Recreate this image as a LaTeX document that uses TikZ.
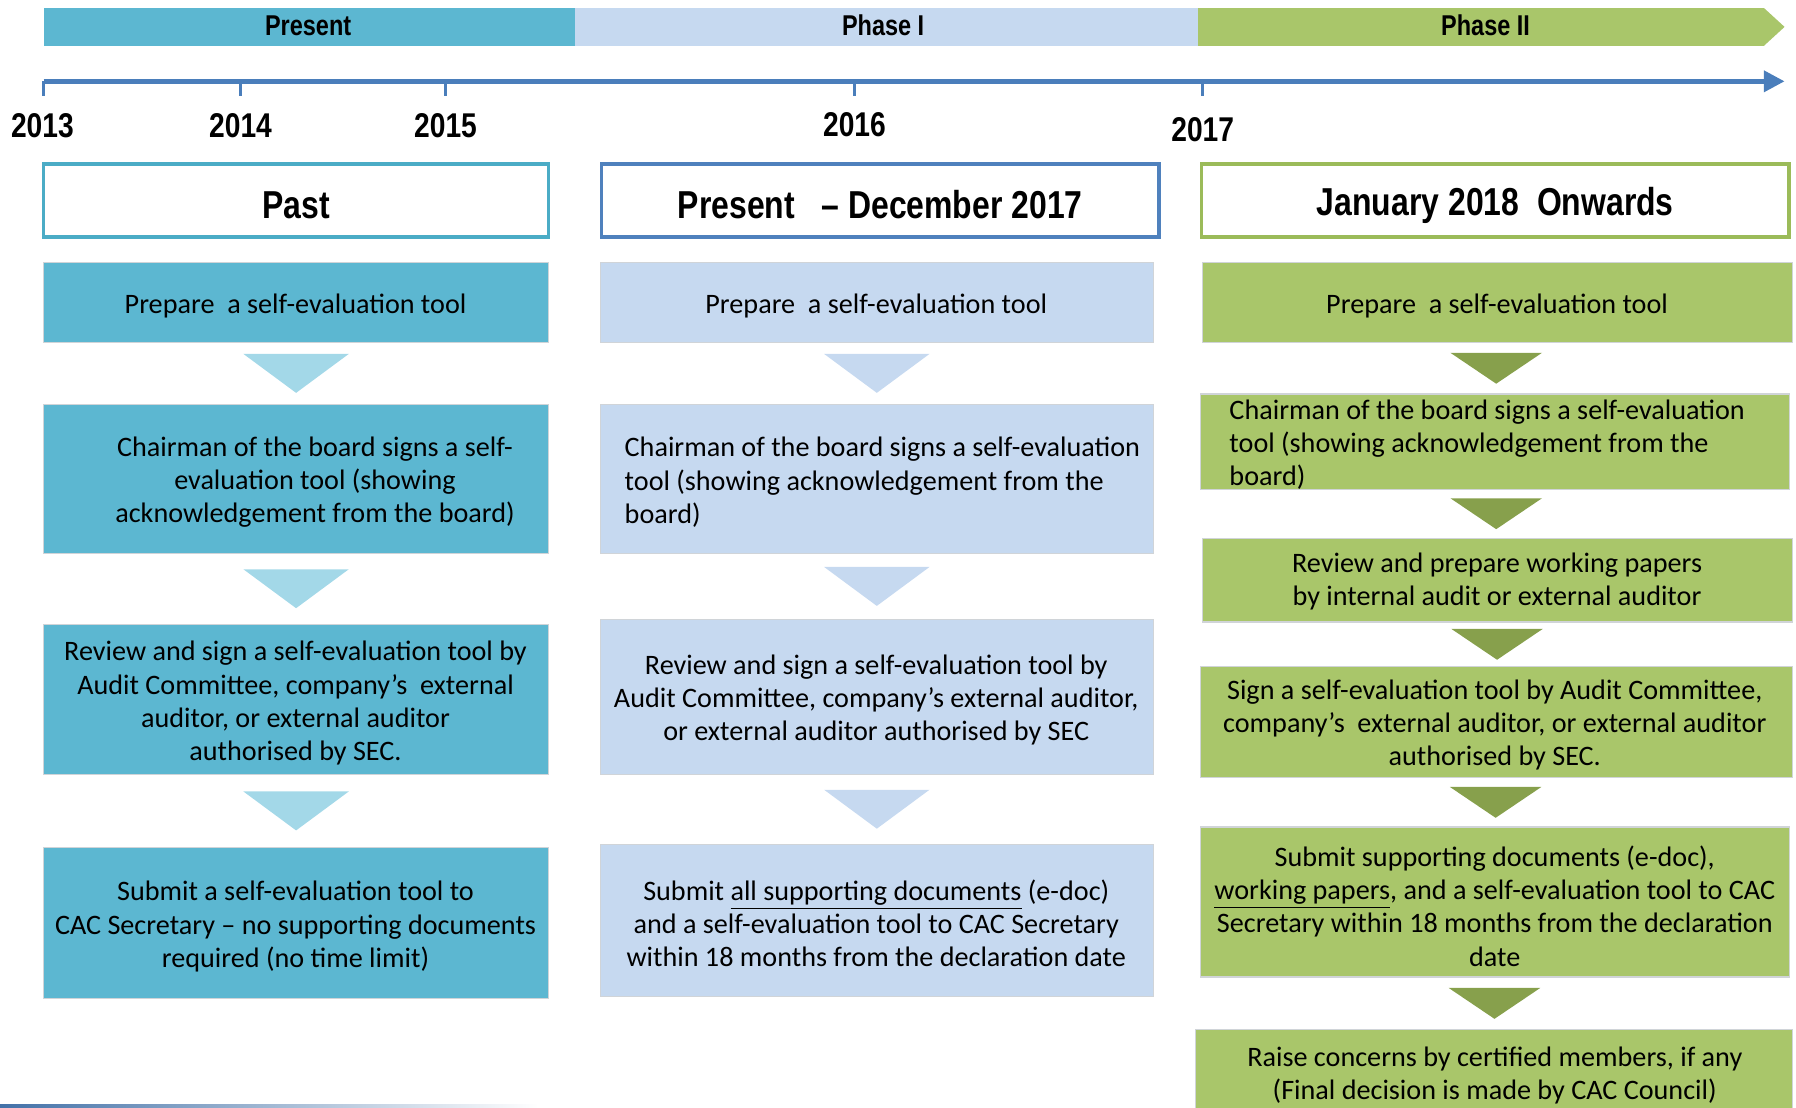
\documentclass[tikz,border=0pt]{standalone}
\usepackage{fontspec}
\setmainfont{Carlito}
\newfontfamily\hfont{Liberation Sans}[FakeStretch=0.82]
\usetikzlibrary{calc,arrows.meta}
\definecolor{cA}{HTML}{5CB7D1}
\definecolor{cAt}{HTML}{A3D8E8}
\definecolor{cAh}{HTML}{4BACC6}
\definecolor{cB}{HTML}{C6D9F0}
\definecolor{cBt}{HTML}{C6D9F0}
\definecolor{cBh}{HTML}{4F81BD}
\definecolor{cC}{HTML}{A9C66A}
\definecolor{cCt}{HTML}{87A04C}
\definecolor{cCh}{HTML}{9BBB59}
\definecolor{tline}{HTML}{4A7EBB}
\definecolor{boxline}{HTML}{D0D4D8}
\newcommand\bx[6]{\node[box=#6, minimum width={(#4-#2)*0.5pt}, minimum height={(#5-#3)*0.5pt}] (#1) at ({(#2+#4)/2},{(#3+#5)/2}) {};}
\newcommand\hbx[6]{\node[hbox=#6, minimum width={(#4-#2)*0.5pt}, minimum height={(#5-#3)*0.5pt}] (#1) at ({(#2+#4)/2},{(#3+#5)/2}) {};}
\newcommand\dtri[5]{\fill[#5] ($(#1.south)!0.5!(#2.north)+(-#3,-#4/2)$) -- ++({2*#3},0) -- ++(-#3,#4) -- cycle;}
\begin{document}
\begin{tikzpicture}[x=0.5pt,y=-0.5pt,
  txt/.style={font=\fontsize{12.3}{14.5}\selectfont, align=center, inner sep=0pt, yshift=-1.5pt},
  box/.style={draw=boxline, line width=0.5pt, fill=#1, inner sep=0pt, outer sep=0pt},
  hbox/.style={draw=#1, line width=1.5pt, fill=white, inner sep=0pt, outer sep=0pt},
  htxt/.style={font=\hfont\bfseries\fontsize{17}{20}\selectfont, inner sep=0pt, yshift=-2pt},
  bartxt/.style={font=\hfont\bfseries\fontsize{12.5}{15}\selectfont, inner sep=0pt},
  year/.style={font=\hfont\bfseries\fontsize{15}{18}\selectfont, inner sep=0pt},
  tick/.style={draw=tline, line width=1.5pt},
]
\useasboundingbox (0,0) rectangle (1568,967);

% top phase bar
\fill[cA] (38,7) rectangle (502,40);
\fill[cB] (502,7) rectangle (1046,40);
\fill[cC] (1046,7) -- (1540,7) -- (1558,23.5) -- (1540,40) -- (1046,40) -- cycle;
\node[bartxt] (barA) at (269,22.5) {Present};
\node[bartxt] (barB) at (771,22.5) {Phase I};
\node[bartxt] (barC) at (1297,22.5) {Phase II};

% timeline
\coordinate (t13) at (38,71);
\coordinate (t14) at (210,71);
\coordinate (t15) at (389,71);
\coordinate (t16) at (746,71);
\coordinate (t17) at (1050,71);
\coordinate (tend) at (1558,71);
\draw[draw=tline, line width=2pt, -{Triangle[length=9pt,width=9pt]}] (t13) -- (tend);
\foreach \t in {t13,t14,t15,t16,t17} \draw[tick] (\t) -- ++(0,13);
\node[year] (y13) at (37,110) {2013};
\node[year] (y14) at (210,110) {2014};
\node[year] (y15) at (389,110) {2015};
\node[year] (y16) at (746,109) {2016};
\node[year] (y17) at (1050,113) {2017};

% header boxes
\hbx{hA}{38}{143}{479}{207}{cAh}
\hbx{hB}{525}{143}{1012}{207}{cBh}
\hbx{hC}{1049}{143}{1562}{207}{cCh}
\node[htxt] (hAt) at (hA) {Past};
\node[htxt] (hBt) at (hB) {Present\ \ \ – December 2017};
\node[htxt] (hCt) at (hC) {January 2018\ \ Onwards};

% column 1
\bx{a1}{38}{229}{479}{299}{cA}
\bx{a2}{38}{353}{479}{483}{cA}
\bx{a3}{38}{545}{479}{676}{cA}
\bx{a4}{38}{740}{479}{872}{cA}
\dtri{a1}{a2}{46}{34}{cAt}
\dtri{a2}{a3}{46}{34}{cAt}
\dtri{a3}{a4}{46}{34}{cAt}
\node[txt] (a1t) at (258,264) {Prepare\ \ a self-evaluation tool};
\node[txt] (a2t) at (275,418) {Chairman of the board signs a self-\\evaluation tool (showing\\acknowledgement from the board)};
\node[txt] (a3t) at (258,611) {Review and sign a self-evaluation tool by\\Audit Committee, company’s\ \ external\\auditor, or external auditor\\authorised by SEC.};
\node[txt] (a4t) at (258,806) {Submit a self-evaluation tool to\\CAC Secretary – no supporting documents\\required (no time limit)};

% column 2
\bx{b1}{524}{229}{1007}{299}{cB}
\bx{b2}{524}{353}{1007}{483}{cB}
\bx{b3}{524}{541}{1007}{676}{cB}
\bx{b4}{524}{737}{1007}{870}{cB}
\dtri{b1}{b2}{46}{34}{cBt}
\dtri{b2}{b3}{46}{34}{cBt}
\dtri{b3}{b4}{46}{34}{cBt}
\node[txt] (b1t) at (765,264) {Prepare\ \ a self-evaluation tool};
\node[txt, align=left, anchor=west] (b2t) at (545,418) {Chairman of the board signs a self-evaluation\\tool (showing acknowledgement from the\\board)};
\node[txt] (b3t) at (765,608) {Review and sign a self-evaluation tool by\\Audit Committee, company’s external auditor,\\or external auditor authorised by SEC};
\node[txt] (b4t) at (765,803) {Submit \underline{all supporting documents} (e-doc)\\and a self-evaluation tool to CAC Secretary\\within 18 months from the declaration date};

% column 3
\bx{c1}{1050}{229}{1565}{299}{cC}
\bx{c2}{1048}{344}{1562}{427}{cC}
\bx{c3}{1050}{470}{1565}{543}{cC}
\bx{c4}{1048}{582}{1565}{679}{cC}
\bx{c5}{1048}{722}{1562}{853}{cC}
\bx{c6}{1044}{899}{1565}{975}{cC}
\dtri{c1}{c2}{40}{27}{cCt}
\dtri{c2}{c3}{40}{27}{cCt}
\dtri{c3}{c4}{40}{27}{cCt}
\dtri{c4}{c5}{40}{27}{cCt}
\dtri{c5}{c6}{40}{27}{cCt}
\node[txt] (c1t) at (1307,264) {Prepare\ \ a self-evaluation tool};
\node[txt, align=left, anchor=west] (c2t) at (1073,385) {Chairman of the board signs a self-evaluation\\tool (showing acknowledgement from the\\board)};
\node[txt] (c3t) at (1307,505) {Review and prepare working papers\\by internal audit or external auditor};
\node[txt] (c4t) at (1305,630) {Sign a self-evaluation tool by Audit Committee,\\company’s\ \ external auditor, or external auditor\\authorised by SEC.};
\node[txt] (c5t) at (1305,788) {Submit supporting documents (e-doc),\\\underline{working papers}, and a self-evaluation tool to CAC\\Secretary within 18 months from the declaration\\date};
\node[txt] (c6t) at (1305,936) {Raise concerns by certified members, if any\\(Final decision is made by CAC Council)};

% bottom edge line
\shade[left color=tline!90!black, right color=white] (0,964) rectangle (470,967);
\end{tikzpicture}
\end{document}
